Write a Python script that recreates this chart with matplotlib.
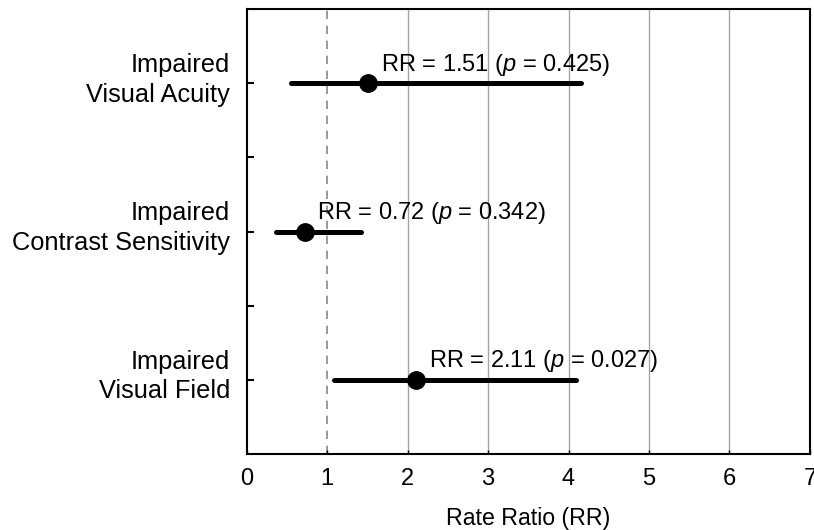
import numpy as np
import matplotlib.pyplot as plt
import matplotlib.transforms as mtransforms

# forest plot data
labels = ['Impaired\nVisual Acuity', 'Impaired\nContrast Sensitivity',
          'Impaired\nVisual Field']
rr = [1.51, 0.72, 2.11]
ci_low = [0.55, 0.36, 1.09]
ci_high = [4.15, 1.42, 4.09]
pvals = ['0.425', '0.342', '0.027']

plt.rcParams['font.family'] = ['Liberation Sans', 'DejaVu Sans']
plt.rcParams['font.size'] = 17
plt.rcParams['mathtext.fontset'] = 'custom'
plt.rcParams['mathtext.it'] = 'Liberation Sans:italic'
plt.rcParams['mathtext.rm'] = 'Liberation Sans'

fig = plt.figure(figsize=(8.14, 5.30), dpi=100)
ax = fig.add_axes([0.303, 0.143, 0.692, 0.840])

ypos = np.array([3, 2, 1])

ax.axvline(1, color='#888888', lw=1.2, ls=(0, (5, 4)), zorder=1)
for g in range(2, 7):
    ax.axvline(g, color='#a6a6a6', lw=1.0, zorder=1)

for y, r, lo, hi, p in zip(ypos, rr, ci_low, ci_high, pvals):
    ax.plot([lo, hi], [y, y], color='black', lw=3.6, solid_capstyle='round',
            zorder=3)
    ax.plot(r, y, 'o', color='black', ms=12.5, zorder=4)
    ax.annotate('RR = %.2f ($p$ = %s)' % (r, p), xy=(r, y),
                xytext=(9, 4), textcoords='offset points',
                ha='left', va='bottom', zorder=5)

ax.set_xlim(0, 7)
ax.set_ylim(0.5, 3.5)
ax.set_xticks(range(0, 8))
ax.set_yticks(ypos)
ax.set_yticklabels(labels, linespacing=1.31, fontsize=18.3)
ax.set_yticks([1.5, 2.5], minor=True)
ax.tick_params(axis='y', which='both', direction='in', length=5, width=1.5,
               pad=12)
ax.tick_params(axis='x', direction='in', length=3, width=1, pad=10)
for s in ax.spines.values():
    s.set_linewidth(1.5)
ax.set_xlabel('Rate Ratio (RR)', labelpad=12, fontsize=16.7)

# nudge the two-line category labels up a bit
shift = mtransforms.ScaledTranslation(0, 0.09, fig.dpi_scale_trans)
for lab in ax.get_yticklabels():
    lab.set_transform(lab.get_transform() + shift)

fig.savefig('out.png', dpi=100)
